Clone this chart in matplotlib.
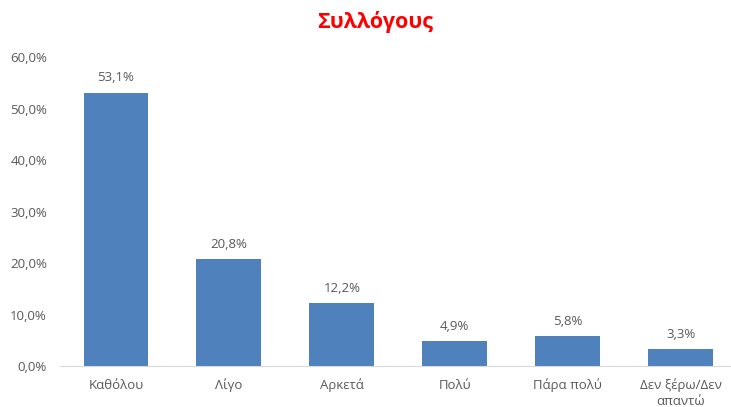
import matplotlib.pyplot as plt

# δεδομένα
categories = ['Καθόλου', 'Λίγο', 'Αρκετά', 'Πολύ', 'Πάρα πολύ', 'Δεν ξέρω/Δεν\nαπαντώ']
values = [53.1, 20.8, 12.2, 4.9, 5.8, 3.3]
yticks = [0, 10, 20, 30, 40, 50, 60]

plt.rcParams['font.family'] = ['Open Sans', 'DejaVu Sans']
txt = '#595959'

fig = plt.figure(figsize=(7.31, 4.07), dpi=100)
ax = fig.add_axes([0.0814, 0.1007, 0.927, 0.759])

x = list(range(len(categories)))
bars = ax.bar(x, values, width=0.575, color='#4F81BD')

# τιμές πάνω από τις μπάρες
for bar, v in zip(bars, values):
    ax.text(bar.get_x() + bar.get_width() / 2, v + 1.6, f'{v:.1f}%'.replace('.', ','),
            ha='center', va='bottom', fontsize=9.5, color=txt)

ax.set_xlim(-0.5, len(categories) - 0.5)
ax.set_ylim(0, 60)
ax.set_yticks(yticks)
ax.set_yticklabels([f'{t:.1f}%'.replace('.', ',') for t in yticks], fontsize=9.5, color=txt)
ax.set_xticks(x)
ax.set_xticklabels(categories, fontsize=9.5, color=txt, linespacing=1.25)
ax.tick_params(axis='both', length=0)
ax.tick_params(axis='x', pad=9)
ax.tick_params(axis='y', pad=9)

for s in ['top', 'right', 'left']:
    ax.spines[s].set_visible(False)
ax.spines['bottom'].set_color('#D9D9D9')

fig.text(0.513, 0.945, 'Συλλόγους', ha='center', va='center',
         fontsize=15.5, fontweight='bold', color='#FF0000')

plt.savefig('out.png', dpi=100)
